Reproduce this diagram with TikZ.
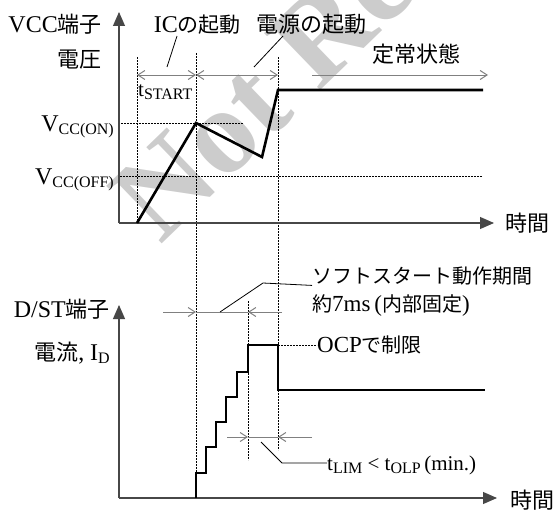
\documentclass[tikz,border=0pt]{standalone}
\usepackage{fontspec}
\setmainfont{Liberation Serif}
\newfontfamily\jp{Noto Sans CJK JP}
\usetikzlibrary{arrows.meta}
\newcommand\lowtxt[1]{\raisebox{-0.35ex}{\fontsize{16}{16}\selectfont #1}}

\begin{document}
\begin{tikzpicture}[x=1pt, y=-1pt,
    axis/.style={draw=black!72, line width=1.1pt, -{Triangle[length=14pt, width=12pt]}},
    wave/.style={line width=2.6pt, line join=miter},
    guide/.style={line width=0.8pt, dash pattern=on 2pt off 1pt},
    dim/.style={draw=black!50, line width=1pt},
    barb/.style={dim, -{Straight Barb[length=7pt, width=9pt]}},
    barbs/.style={dim, {Straight Barb[length=7pt, width=9pt]}-{Straight Barb[length=7pt, width=9pt]}},
    leader/.style={line width=0.8pt},
    lbl/.style={inner sep=0pt, font=\fontsize{24}{28}\selectfont},
    small/.style={inner sep=0pt, font=\fontsize{21}{26}\selectfont},
    jlbl/.style={inner sep=0pt, font=\jp\fontsize{22}{26}\selectfont},
    jsmall/.style={inner sep=0pt, font=\jp\fontsize{20}{24}\selectfont}
]
\useasboundingbox (0,0) rectangle (553,511);
\node[rotate=44, anchor=base west, inner sep=0pt, text=black!20,
    font=\bfseries\fontsize{122}{122}\selectfont] (wm) at (160,246) {Not Recommended};

% VCC
\coordinate (o1) at (119,223);
\coordinate (y1) at (119,12);
\coordinate (x1) at (494,223);
\coordinate (a0) at (137,57);
\coordinate (a1) at (196,53);
\coordinate (a2) at (278,57);
\coordinate (b0) at (137,223);
\coordinate (b1) at (196,498);
\coordinate (b2) at (278,450);
\coordinate (von) at (243,123);
\coordinate (voff) at (482,176);
\draw[guide] (a0) -- (b0);
\draw[guide] (a1) -- (b1);
\draw[guide] (a2) -- (b2);
\draw[guide] (von) -- (von -| o1);
\draw[guide] (voff) -- (voff -| o1);
\draw[axis] (o1) -- (y1);
\draw[axis] (o1) -- (x1);
\draw[wave] (b0) -- (196,123) -- (262,157) -- (278,90) -- (483,90);

\coordinate (d0) at (137,75);
\coordinate (d1) at (196,75);
\coordinate (d2) at (278,75);
\coordinate (d3) at (312,75);
\coordinate (d4) at (488,75);
\draw[barbs] (d0) -- (d1);
\draw[barbs] (d1) -- (d2);
\draw[barb] (d3) -- (d4);

\node[lbl, anchor=base east] (vcc) at (102,33) {VCC{\jp\fontsize{22}{26}\selectfont 端子}};
\node[jlbl, anchor=base east] (vlt) at (102,67) {電圧};
\node[lbl, anchor=base east] (lon) at (114,131) {V\lowtxt{CC(ON)}};
\node[lbl, anchor=base east] (loff) at (114,184) {V\lowtxt{CC(OFF)}};
\node[small, anchor=base west] (tst) at (138,96) {t\lowtxt{START}};
\node[lbl, anchor=base east] (ic) at (241,33) {IC{\jp\fontsize{21}{26}\selectfont の起動}};
\node[jlbl, anchor=base west] (pw) at (256,33) {電源の起動};
\node[jlbl] (st) at (416,54) {定常状態};
\node[jlbl, anchor=west] (t1) at (505,223) {時間};
\draw[leader] (177,36) -- (167,67);
\draw[leader] (283,36) -- (254,67);

% D/ST
\coordinate (o2) at (119,498);
\coordinate (y2) at (119,305);
\coordinate (x2) at (497,498);
\coordinate (a3) at (248,301);
\coordinate (b3) at (248,460);
\draw[guide] (a3) -- (b3);
\draw[axis] (o2) -- (y2);
\draw[axis] (o2) -- (x2);
\draw[wave] (b1) -- (196,473) -- (206,473) -- (206,447) -- (216,447) -- (216,422)
    -- (226,422) -- (226,397) -- (237,397) -- (237,372) -- (248,372) -- (248,345)
    -- (278,345) -- (278,390) -- (485,390);

\coordinate (s0) at (163,312);
\coordinate (s1) at (196,312);
\coordinate (s2) at (248,312);
\coordinate (s3) at (282,312);
\draw[dim] (s1) -- (s2);
\draw[barb] (s0) -- (s1);
\draw[barb] (s3) -- (s2);
\coordinate (k0) at (227,437);
\coordinate (k1) at (248,437);
\coordinate (k2) at (278,437);
\coordinate (k3) at (312,437);
\draw[dim] (k1) -- (k2);
\draw[barb] (k0) -- (k1);
\draw[barb] (k3) -- (k2);

\node[lbl, anchor=base east] (dst) at (110,317) {D/ST{\jp\fontsize{22}{26}\selectfont 端子}};
\node[lbl, anchor=base east] (cur) at (110,360) {{\jp\fontsize{22}{26}\selectfont 電流}, I\lowtxt{D}};
\node[jsmall, anchor=west] (ss) at (312,276) {ソフトスタート動作期間};
\node[jsmall, anchor=west] (fx) at (312,306) {約{\fontspec{Liberation Serif}\fontsize{23}{26}\selectfont 7ms\,(}内部固定{\fontspec{Liberation Serif}\fontsize{23}{26}\selectfont )}};
\node[inner sep=0pt, font=\fontsize{23}{26}\selectfont, anchor=west] (ocp) at (317,345) {OCP{\jp\fontsize{20}{24}\selectfont で制限}};
\node[small, anchor=base west] (tl) at (327,470) {t\lowtxt{LIM} < t\lowtxt{OLP}\,(min.)};
\node[jlbl, anchor=west] (t2) at (510,500) {時間};
\draw[guide] (278,345) -- (ocp.west);
\draw[leader] (220,312) -- (263,283) -- (ss.south west);
\draw[leader] (261,442) -- (282,463) -- (tl.base west |- 0,463);
\end{tikzpicture}
\end{document}
